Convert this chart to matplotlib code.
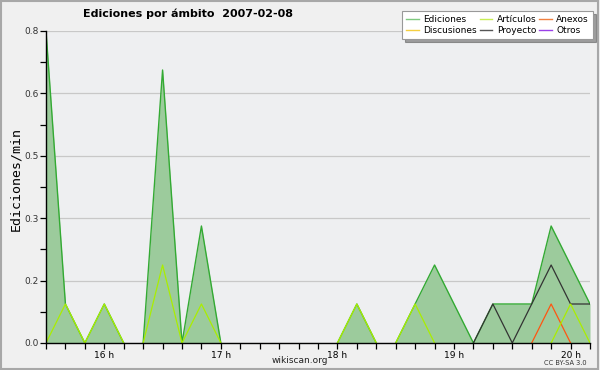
import matplotlib
matplotlib.use("Agg")
import matplotlib.pyplot as plt
from matplotlib.lines import Line2D
from matplotlib.patches import Rectangle
import numpy as np

# 10-minute steps from 15:30 to 20:10
times = [15.5 + i / 6 for i in range(29)]
ediciones = [0.8, 0.1, 0, 0.1, 0, 0, 0.7, 0, 0.3, 0,
             0, 0, 0, 0, 0, 0, 0.1, 0, 0, 0.1,
             0.2, 0.1, 0, 0.1, 0.1, 0.1, 0.3, 0.2, 0.1]
articulos = [0, 0.1, 0, 0.1, 0, 0, 0.2, 0, 0.1, 0,
             0, 0, 0, 0, 0, 0, 0.1, 0, 0, 0.1,
             0, 0, 0, 0, 0, 0, 0, 0.1, 0]
proyecto = [0] * 22 + [0, 0.1, 0, 0.1, 0.2, 0.1, 0.1]
anexos = [0] * 25 + [0, 0.1, 0, 0]

series_labels = ["Ediciones", "Discusiones", "Artículos", "Proyecto", "Anexos", "Otros"]
legend_colors = ["#7fc97f", "#f5cf40", "#c8ee55", "#555555", "#f08040", "#9a40e8"]

xticks = [16, 17, 18, 19, 20]
xticklabels = ["16 h", "17 h", "18 h", "19 h", "20 h"]
yticks = [0, 0.16, 0.32, 0.48, 0.64, 0.8]
yticklabels = ["0.0", "0.2", "0.3", "0.5", "0.6", "0.8"]


def break_flat_zero(xs, vals):
    """Insert gaps where a segment lies flat on the zero baseline."""
    ox, oy = [xs[0]], [vals[0]]
    for i in range(1, len(vals)):
        if vals[i - 1] == 0 and vals[i] == 0:
            ox.append((xs[i - 1] + xs[i]) / 2)
            oy.append(np.nan)
        ox.append(xs[i])
        oy.append(vals[i])
    return ox, oy


fig = plt.figure(figsize=(6, 3.7), dpi=100)
fig.patch.set_facecolor("#f0f0f0")
fig.patches.append(Rectangle((0.002, 0.003), 0.995, 0.994, transform=fig.transFigure,
                             fill=False, edgecolor="#a8a8a8", linewidth=1.5))

ax = fig.add_axes([46 / 600, 27 / 370, 544 / 600, 312 / 370])
ax.set_facecolor("#eeeff1")

ax.fill_between(times, ediciones, 0, color="#9ccb9c", linewidth=0, zorder=2)
ax.plot(*break_flat_zero(times, ediciones), color="#33aa33", linewidth=1.0, zorder=3)
ax.plot(*break_flat_zero(times, proyecto), color="#333333", linewidth=0.9, zorder=4)
ax.plot(*break_flat_zero(times, anexos), color="#ff5511", linewidth=0.9, zorder=4)
ax.plot(*break_flat_zero(times, articulos), color="#aaee00", linewidth=0.9, zorder=5)

ax.set_xlim(times[0], times[-1])
ax.set_ylim(0, 0.8)
ax.set_xticks(xticks)
ax.set_xticklabels(xticklabels, fontsize=6.5)
ax.set_xticks(times, minor=True)
ax.set_yticks(yticks)
ax.set_yticklabels(yticklabels, fontsize=6.5, color="#333333")
ax.set_yticks([0.08 + 0.16 * k for k in range(5)], minor=True)
ax.tick_params(axis="both", which="both", direction="out", length=4, width=0.9, color="black", pad=1)
ax.tick_params(axis="x", which="major", pad=1.5)
ax.grid(axis="y", which="major", color="#c8c8c8", linewidth=0.9, zorder=1)
ax.set_axisbelow(True)
for s in ["top", "right"]:
    ax.spines[s].set_visible(False)
for s in ["left", "bottom"]:
    ax.spines[s].set_linewidth(1.0)
    ax.spines[s].set_zorder(6)

ax.set_ylabel("Ediciones/min", family="DejaVu Sans Mono", fontsize=9.5)
ax.yaxis.set_label_coords(-0.043, 0.526)

fig.text(0.314, 0.962, "Ediciones por ámbito  2007-02-08", ha="center", va="center",
         fontsize=8, fontweight="bold")
fig.text(0.5, 0.027, "wikiscan.org", ha="center", va="center", fontsize=6.5, color="#222222")
fig.text(0.943, 0.019, "CC BY-SA 3.0", ha="center", va="center", fontsize=4.8, color="#333333")

handles = [Line2D([], [], color=c, linewidth=1.0) for c in legend_colors]
leg = fig.legend(handles, series_labels, ncol=3, loc="upper right",
                 bbox_to_anchor=(593 / 600, 1 - 11 / 370), fontsize=6.5,
                 frameon=True, fancybox=False, shadow=True, handlelength=1.4,
                 handletextpad=0.5, columnspacing=0.3, labelspacing=0.25,
                 borderpad=0.45, borderaxespad=0)
leg.get_frame().set_edgecolor("#999999")
leg.get_frame().set_facecolor("white")
leg.get_frame().set_linewidth(0.8)

fig.savefig("out.png", dpi=100, facecolor=fig.get_facecolor())
